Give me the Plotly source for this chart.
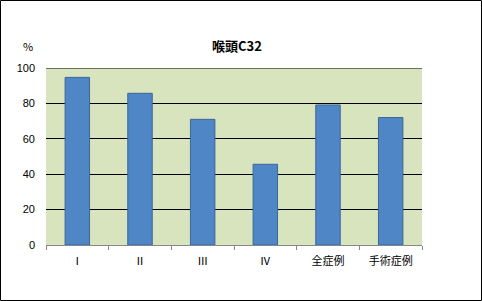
import plotly.graph_objects as go

categories = ["Ⅰ", "Ⅱ", "Ⅲ", "Ⅳ", "全症例", "手術症例"]
values = [94.7, 85.7, 71.0, 45.6, 79.1, 72.0]
y_ticks = [0, 20, 40, 60, 80, 100]
title_text = "喉頭C32"
y_unit = "%"

W, H = 482, 301
ml, mr, mt, mb = 46, 60, 68, 56
pw, ph = W - ml - mr, H - mt - mb

font = "Noto Sans CJK JP, DejaVu Sans, sans-serif"

fig = go.Figure(go.Bar(
    x=categories, y=values,
    marker=dict(color="#4f86c6", line=dict(color="#3b659a", width=1)),
))

def px_x(p):
    return (p - ml) / pw

def px_y(p):
    return (H - mb - p) / ph

fig.update_layout(
    width=W, height=H,
    margin=dict(l=ml, r=mr, t=mt, b=mb),
    paper_bgcolor="white",
    plot_bgcolor="#d7e4bd",
    bargap=0.61,
    showlegend=False,
    font=dict(family=font, size=11, color="black"),
    title=dict(text="<b>" + title_text + "</b>", x=237 / W, xanchor="center",
               y=1 - 46 / H, yanchor="middle", font=dict(size=13, family=font)),
    xaxis=dict(
        type="category", showgrid=False, showline=True, linecolor="#888888",
        linewidth=1, ticks="outside", tickson="boundaries", ticklen=4,
        tickcolor="#888888", tickfont=dict(size=11, family=font), range=[-0.5, 5.5],
        ticklabelstandoff=6,
    ),
    yaxis=dict(
        range=[0, 100], tickvals=y_ticks, showgrid=True, gridcolor="black",
        gridwidth=1, zeroline=False, showline=False, ticks="",
        tickfont=dict(size=11, family="Liberation Sans, Arial, sans-serif"),
        ticklabelstandoff=10,
    ),
    annotations=[dict(text=y_unit, x=px_x(28), y=px_y(46), xref="paper", yref="paper",
                      xanchor="center", yanchor="middle",
                      showarrow=False, font=dict(size=11, family=font))],
    shapes=[
        dict(type="line", xref="paper", yref="y", x0=0, x1=1,
             y0=y_ticks[-1], y1=y_ticks[-1], line=dict(color="black", width=1),
             layer="above"),
        dict(type="rect", xref="paper", yref="paper",
             x0=px_x(0.5), x1=px_x(W - 0.5), y0=px_y(H - 0.5), y1=px_y(0.5),
             line=dict(color="black", width=1), layer="above"),
    ],
)

fig.write_html("out.html")
